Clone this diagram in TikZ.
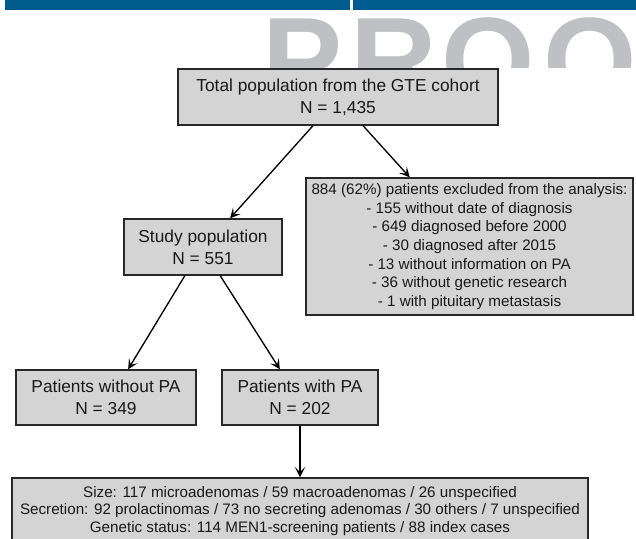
\documentclass[tikz,border=0pt]{standalone}
\usepackage{fontspec}
\setmainfont{Liberation Sans}
\usetikzlibrary{arrows.meta,calc}
\definecolor{hdrblue}{RGB}{0,91,143}
\definecolor{wmgray}{RGB}{190,192,196}
\definecolor{boxfill}{RGB}{212,212,212}
\definecolor{boxline}{RGB}{40,40,40}
\definecolor{txt}{RGB}{25,25,25}
\tikzset{
  flowbox/.style={draw=boxline, fill=boxfill, line width=1.1pt, inner sep=0pt, align=center, text=txt},
  bigtext/.style={font=\fontsize{13}{16.5}\selectfont},
  smalltext/.style={font=\fontsize{11.4}{14}\selectfont},
  bottomtext/.style={font=\fontsize{11.4}{12.9}\selectfont},
  flowarrow/.style={line width=1pt, draw=black, -{Stealth[length=7.5pt,width=7.5pt,inset=3.5pt]}},
  wmletter/.style={text=wmgray, anchor=base, inner sep=0pt, font=\bfseries\fontsize{90}{90}\selectfont}
}
\begin{document}
\begin{tikzpicture}[x=0.75pt,y=-0.75pt]
\clip (0,0) rectangle (636,539);
\fill[white] (0,0) rectangle (636,539);
% header bar
\fill[hdrblue] (5,0) rectangle (350,10);
\fill[hdrblue] (353,0) rectangle (636,10);
% watermark
\begin{scope}
\clip (0,12) rectangle (636,67);
\node[wmletter] (wP) at (303,101) {P};
\node[wmletter] (wR) at (394,101) {R};
\node[wmletter] (wO1) at (488,101) {O};
\node[wmletter] (wO2) at (590,101) {O};
\end{scope}
% boxes
\node[flowbox, bigtext, minimum width=320*0.75pt, minimum height=56*0.75pt] (total) at (338,97)
  {Total population from the GTE cohort\\N = 1,435};
\node[flowbox, smalltext, minimum width=327*0.75pt, minimum height=137*0.75pt] (excl) at (469.5,246.5)
  {884 (62\%) patients excluded from the analysis:\\- 155 without date of diagnosis\\- 649 diagnosed before 2000\\- 30 diagnosed after 2015\\- 13 without information on PA\\- 36 without genetic research\\- 1 with pituitary metastasis};
\node[flowbox, bigtext, minimum width=158*0.75pt, minimum height=56*0.75pt] (study) at (203,247)
  {Study population\\N = 551};
\node[flowbox, bigtext, minimum width=180*0.75pt, minimum height=55*0.75pt] (without) at (106,397.5)
  {Patients without PA\\N = 349};
\node[flowbox, bigtext, minimum width=156*0.75pt, minimum height=55*0.75pt] (with) at (300,397.5)
  {Patients with PA\\N = 202};
\node[flowbox, bottomtext, minimum width=576*0.75pt, minimum height=66*0.75pt] (detail) at (300,511)
  {Size: 117 microadenomas / 59 macroadenomas / 26 unspecified\\Secretion: 92 prolactinomas / 73 no secreting adenomas / 30 others / 7 unspecified\\Genetic status: 114 MEN1-screening patients / 88 index cases};
% connectors
\draw[flowarrow] ($(total.south west)!0.422!(total.south east)$) -- ($(study.north west)!0.67!(study.north east)$);
\draw[flowarrow] ($(total.south west)!0.578!(total.south east)$) -- ($(excl.north west)!0.318!(excl.north east)$);
\draw[flowarrow] ($(study.south west)!0.386!(study.south east)$) -- ($(without.north west)!0.622!(without.north east)$);
\draw[flowarrow] ($(study.south west)!0.608!(study.south east)$) -- ($(with.north west)!0.372!(with.north east)$);
\draw[flowarrow] (with.south) -- (detail.north);
\end{tikzpicture}
\end{document}
